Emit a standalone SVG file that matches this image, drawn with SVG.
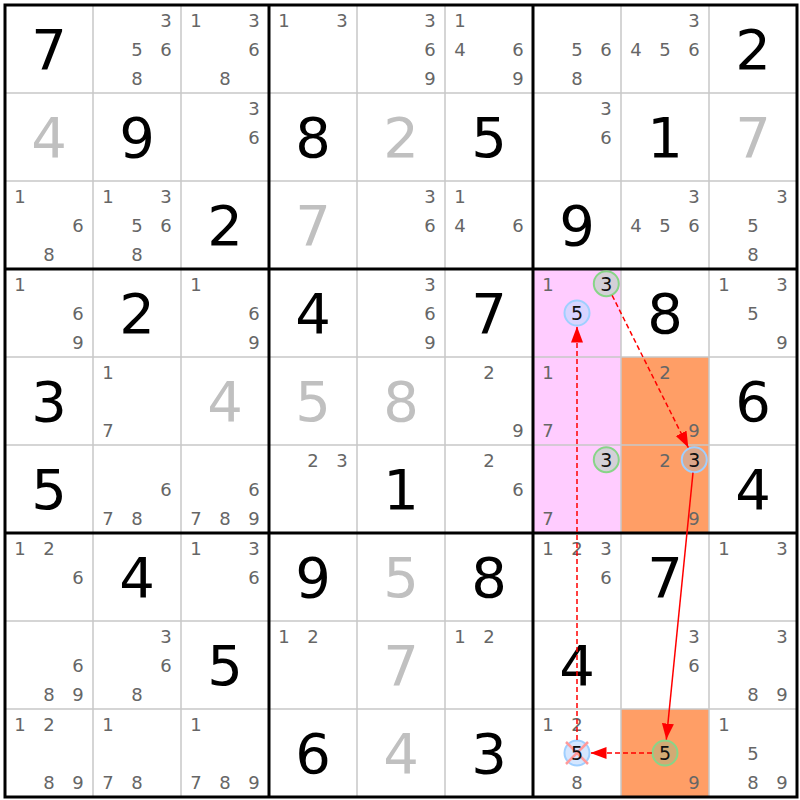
<svg xmlns="http://www.w3.org/2000/svg" width="800" height="800" viewBox="0 0 800 800">
<defs>
<style>
text{font-family:"DejaVu Sans","Liberation Sans",Verdana,sans-serif;text-anchor:middle}
.c{font-size:18px;fill:#666}
.g{font-size:56px;fill:#000}
.s{font-size:56px;fill:#c0c0c0}
.k{font-size:19px;fill:#111}
.thin{stroke:#c8c8c8;stroke-width:1.5;fill:none}
.thick{stroke:#000;stroke-width:3;fill:none}
.ring-g{stroke:#88d488;stroke-width:2}
.ring-b{stroke:#9fcfff;stroke-width:2}
.arr{stroke:#f00;stroke-width:1.5;fill:none;marker-end:url(#ah)}
.dash{stroke-dasharray:5,3}
</style>
<marker id="ah" markerUnits="userSpaceOnUse" markerWidth="17" markerHeight="13" refX="16" refY="6" orient="auto">
<path d="M0,0 L16,6 L0,12 z" fill="#f00"/>
</marker>
</defs>
<rect width="800" height="800" fill="#fff"/>
<g id="highlights">
<rect x="533" y="269" width="88" height="264" fill="#ffccff"/>
<rect x="621" y="357" width="88" height="176" fill="#ff9e66"/>
<rect x="621" y="709" width="88" height="88" fill="#ff9e66"/>
</g>
<g id="grid">
<path class="thin" d="M93,5V797M181,5V797M357,5V797M445,5V797M621,5V797M709,5V797M5,93H797M5,181H797M5,357H797M5,445H797M5,621H797M5,709H797"/>
<path class="thick" d="M269,5V797M533,5V797M5,269H797M5,533H797"/>
<rect class="thick" x="5" y="5" width="792" height="792"/>
</g>
<g id="cells">
<g id="r1c1" transform="translate(49,49)"><text class="g" y="20">7</text></g>
<g id="r1c2" transform="translate(137,49)"><text class="c" x="29" y="-22">3</text><text class="c" x="0" y="7">5</text><text class="c" x="29" y="7">6</text><text class="c" x="0" y="36">8</text></g>
<g id="r1c3" transform="translate(225,49)"><text class="c" x="-29" y="-22">1</text><text class="c" x="29" y="-22">3</text><text class="c" x="29" y="7">6</text><text class="c" x="0" y="36">8</text></g>
<g id="r1c4" transform="translate(313,49)"><text class="c" x="-29" y="-22">1</text><text class="c" x="29" y="-22">3</text></g>
<g id="r1c5" transform="translate(401,49)"><text class="c" x="29" y="-22">3</text><text class="c" x="29" y="7">6</text><text class="c" x="29" y="36">9</text></g>
<g id="r1c6" transform="translate(489,49)"><text class="c" x="-29" y="-22">1</text><text class="c" x="-29" y="7">4</text><text class="c" x="29" y="7">6</text><text class="c" x="29" y="36">9</text></g>
<g id="r1c7" transform="translate(577,49)"><text class="c" x="0" y="7">5</text><text class="c" x="29" y="7">6</text><text class="c" x="0" y="36">8</text></g>
<g id="r1c8" transform="translate(665,49)"><text class="c" x="29" y="-22">3</text><text class="c" x="-29" y="7">4</text><text class="c" x="0" y="7">5</text><text class="c" x="29" y="7">6</text></g>
<g id="r1c9" transform="translate(753,49)"><text class="g" y="20">2</text></g>

<g id="r2c1" transform="translate(49,137)"><text class="s" y="20">4</text></g>
<g id="r2c2" transform="translate(137,137)"><text class="g" y="20">9</text></g>
<g id="r2c3" transform="translate(225,137)"><text class="c" x="29" y="-22">3</text><text class="c" x="29" y="7">6</text></g>
<g id="r2c4" transform="translate(313,137)"><text class="g" y="20">8</text></g>
<g id="r2c5" transform="translate(401,137)"><text class="s" y="20">2</text></g>
<g id="r2c6" transform="translate(489,137)"><text class="g" y="20">5</text></g>
<g id="r2c7" transform="translate(577,137)"><text class="c" x="29" y="-22">3</text><text class="c" x="29" y="7">6</text></g>
<g id="r2c8" transform="translate(665,137)"><text class="g" y="20">1</text></g>
<g id="r2c9" transform="translate(753,137)"><text class="s" y="20">7</text></g>

<g id="r3c1" transform="translate(49,225)"><text class="c" x="-29" y="-22">1</text><text class="c" x="29" y="7">6</text><text class="c" x="0" y="36">8</text></g>
<g id="r3c2" transform="translate(137,225)"><text class="c" x="-29" y="-22">1</text><text class="c" x="29" y="-22">3</text><text class="c" x="0" y="7">5</text><text class="c" x="29" y="7">6</text><text class="c" x="0" y="36">8</text></g>
<g id="r3c3" transform="translate(225,225)"><text class="g" y="20">2</text></g>
<g id="r3c4" transform="translate(313,225)"><text class="s" y="20">7</text></g>
<g id="r3c5" transform="translate(401,225)"><text class="c" x="29" y="-22">3</text><text class="c" x="29" y="7">6</text></g>
<g id="r3c6" transform="translate(489,225)"><text class="c" x="-29" y="-22">1</text><text class="c" x="-29" y="7">4</text><text class="c" x="29" y="7">6</text></g>
<g id="r3c7" transform="translate(577,225)"><text class="g" y="20">9</text></g>
<g id="r3c8" transform="translate(665,225)"><text class="c" x="29" y="-22">3</text><text class="c" x="-29" y="7">4</text><text class="c" x="0" y="7">5</text><text class="c" x="29" y="7">6</text></g>
<g id="r3c9" transform="translate(753,225)"><text class="c" x="29" y="-22">3</text><text class="c" x="0" y="7">5</text><text class="c" x="0" y="36">8</text></g>

<g id="r4c1" transform="translate(49,313)"><text class="c" x="-29" y="-22">1</text><text class="c" x="29" y="7">6</text><text class="c" x="29" y="36">9</text></g>
<g id="r4c2" transform="translate(137,313)"><text class="g" y="20">2</text></g>
<g id="r4c3" transform="translate(225,313)"><text class="c" x="-29" y="-22">1</text><text class="c" x="29" y="7">6</text><text class="c" x="29" y="36">9</text></g>
<g id="r4c4" transform="translate(313,313)"><text class="g" y="20">4</text></g>
<g id="r4c5" transform="translate(401,313)"><text class="c" x="29" y="-22">3</text><text class="c" x="29" y="7">6</text><text class="c" x="29" y="36">9</text></g>
<g id="r4c6" transform="translate(489,313)"><text class="g" y="20">7</text></g>
<g id="r4c7" transform="translate(577,313)"><text class="c" x="-29" y="-22">1</text><circle class="ring-g" cx="29.3" cy="-29.3" r="12.5" fill="#d4d0d8"/><text class="k" x="29.3" y="-22.4">3</text><circle class="ring-b" cx="0" cy="0" r="12.5" fill="#d8d4ff"/><text class="k" x="0" y="6.9">5</text></g>
<g id="r4c8" transform="translate(665,313)"><text class="g" y="20">8</text></g>
<g id="r4c9" transform="translate(753,313)"><text class="c" x="-29" y="-22">1</text><text class="c" x="29" y="-22">3</text><text class="c" x="0" y="7">5</text><text class="c" x="29" y="36">9</text></g>

<g id="r5c1" transform="translate(49,401)"><text class="g" y="20">3</text></g>
<g id="r5c2" transform="translate(137,401)"><text class="c" x="-29" y="-22">1</text><text class="c" x="-29" y="36">7</text></g>
<g id="r5c3" transform="translate(225,401)"><text class="s" y="20">4</text></g>
<g id="r5c4" transform="translate(313,401)"><text class="s" y="20">5</text></g>
<g id="r5c5" transform="translate(401,401)"><text class="s" y="20">8</text></g>
<g id="r5c6" transform="translate(489,401)"><text class="c" x="0" y="-22">2</text><text class="c" x="29" y="36">9</text></g>
<g id="r5c7" transform="translate(577,401)"><text class="c" x="-29" y="-22">1</text><text class="c" x="-29" y="36">7</text></g>
<g id="r5c8" transform="translate(665,401)"><text class="c" x="0" y="-22">2</text><text class="c" x="29" y="36">9</text></g>
<g id="r5c9" transform="translate(753,401)"><text class="g" y="20">6</text></g>

<g id="r6c1" transform="translate(49,489)"><text class="g" y="20">5</text></g>
<g id="r6c2" transform="translate(137,489)"><text class="c" x="29" y="7">6</text><text class="c" x="-29" y="36">7</text><text class="c" x="0" y="36">8</text></g>
<g id="r6c3" transform="translate(225,489)"><text class="c" x="29" y="7">6</text><text class="c" x="-29" y="36">7</text><text class="c" x="0" y="36">8</text><text class="c" x="29" y="36">9</text></g>
<g id="r6c4" transform="translate(313,489)"><text class="c" x="0" y="-22">2</text><text class="c" x="29" y="-22">3</text></g>
<g id="r6c5" transform="translate(401,489)"><text class="g" y="20">1</text></g>
<g id="r6c6" transform="translate(489,489)"><text class="c" x="0" y="-22">2</text><text class="c" x="29" y="7">6</text></g>
<g id="r6c7" transform="translate(577,489)"><circle class="ring-g" cx="29.3" cy="-29.3" r="12.5" fill="#d4d0d8"/><text class="k" x="29.3" y="-22.4">3</text><text class="c" x="-29" y="36">7</text></g>
<g id="r6c8" transform="translate(665,489)"><text class="c" x="0" y="-22">2</text><circle class="ring-b" cx="29.3" cy="-29.3" r="12.5" fill="#dca88c"/><text class="k" x="29.3" y="-22.4">3</text><text class="c" x="29" y="36">9</text></g>
<g id="r6c9" transform="translate(753,489)"><text class="g" y="20">4</text></g>

<g id="r7c1" transform="translate(49,577)"><text class="c" x="-29" y="-22">1</text><text class="c" x="0" y="-22">2</text><text class="c" x="29" y="7">6</text></g>
<g id="r7c2" transform="translate(137,577)"><text class="g" y="20">4</text></g>
<g id="r7c3" transform="translate(225,577)"><text class="c" x="-29" y="-22">1</text><text class="c" x="29" y="-22">3</text><text class="c" x="29" y="7">6</text></g>
<g id="r7c4" transform="translate(313,577)"><text class="g" y="20">9</text></g>
<g id="r7c5" transform="translate(401,577)"><text class="s" y="20">5</text></g>
<g id="r7c6" transform="translate(489,577)"><text class="g" y="20">8</text></g>
<g id="r7c7" transform="translate(577,577)"><text class="c" x="-29" y="-22">1</text><text class="c" x="0" y="-22">2</text><text class="c" x="29" y="-22">3</text><text class="c" x="29" y="7">6</text></g>
<g id="r7c8" transform="translate(665,577)"><text class="g" y="20">7</text></g>
<g id="r7c9" transform="translate(753,577)"><text class="c" x="-29" y="-22">1</text><text class="c" x="29" y="-22">3</text></g>

<g id="r8c1" transform="translate(49,665)"><text class="c" x="29" y="7">6</text><text class="c" x="0" y="36">8</text><text class="c" x="29" y="36">9</text></g>
<g id="r8c2" transform="translate(137,665)"><text class="c" x="29" y="-22">3</text><text class="c" x="29" y="7">6</text><text class="c" x="0" y="36">8</text></g>
<g id="r8c3" transform="translate(225,665)"><text class="g" y="20">5</text></g>
<g id="r8c4" transform="translate(313,665)"><text class="c" x="-29" y="-22">1</text><text class="c" x="0" y="-22">2</text></g>
<g id="r8c5" transform="translate(401,665)"><text class="s" y="20">7</text></g>
<g id="r8c6" transform="translate(489,665)"><text class="c" x="-29" y="-22">1</text><text class="c" x="0" y="-22">2</text></g>
<g id="r8c7" transform="translate(577,665)"><text class="g" y="20">4</text></g>
<g id="r8c8" transform="translate(665,665)"><text class="c" x="29" y="-22">3</text><text class="c" x="29" y="7">6</text></g>
<g id="r8c9" transform="translate(753,665)"><text class="c" x="29" y="-22">3</text><text class="c" x="0" y="36">8</text><text class="c" x="29" y="36">9</text></g>

<g id="r9c1" transform="translate(49,753)"><text class="c" x="-29" y="-22">1</text><text class="c" x="0" y="-22">2</text><text class="c" x="0" y="36">8</text><text class="c" x="29" y="36">9</text></g>
<g id="r9c2" transform="translate(137,753)"><text class="c" x="-29" y="-22">1</text><text class="c" x="-29" y="36">7</text><text class="c" x="0" y="36">8</text></g>
<g id="r9c3" transform="translate(225,753)"><text class="c" x="-29" y="-22">1</text><text class="c" x="-29" y="36">7</text><text class="c" x="0" y="36">8</text><text class="c" x="29" y="36">9</text></g>
<g id="r9c4" transform="translate(313,753)"><text class="g" y="20">6</text></g>
<g id="r9c5" transform="translate(401,753)"><text class="s" y="20">4</text></g>
<g id="r9c6" transform="translate(489,753)"><text class="g" y="20">3</text></g>
<g id="r9c7" transform="translate(577,753)"><text class="c" x="-29" y="-22">1</text><text class="c" x="0" y="-22">2</text><circle class="ring-b" cx="0" cy="0" r="12.5" fill="#d4e6ff"/><path d="M-11,-11L11,11M11,-11L-11,11" stroke="#ff9a9a" stroke-width="2.5"/><text class="k" x="0" y="6.9">5</text><text class="c" x="0" y="36">8</text></g>
<g id="r9c8" transform="translate(665,753)"><circle class="ring-g" cx="0" cy="0" r="12.5" fill="#d2aa74"/><text class="k" x="0" y="6.9">5</text><text class="c" x="29" y="36">9</text></g>
<g id="r9c9" transform="translate(753,753)"><text class="c" x="-29" y="-22">1</text><text class="c" x="0" y="7">5</text><text class="c" x="0" y="36">8</text><text class="c" x="29" y="36">9</text></g>
</g>
<g id="connectors">
<line class="arr dash" x1="612.1" y1="295.3" x2="688.3" y2="447.6"/>
<line class="arr" x1="693" y1="472.6" x2="666.3" y2="739.6"/>
<line class="arr dash" x1="652" y1="753" x2="590.5" y2="753"/>
<line class="arr dash" x1="577" y1="740" x2="577" y2="326.5"/>
</g>
</svg>
